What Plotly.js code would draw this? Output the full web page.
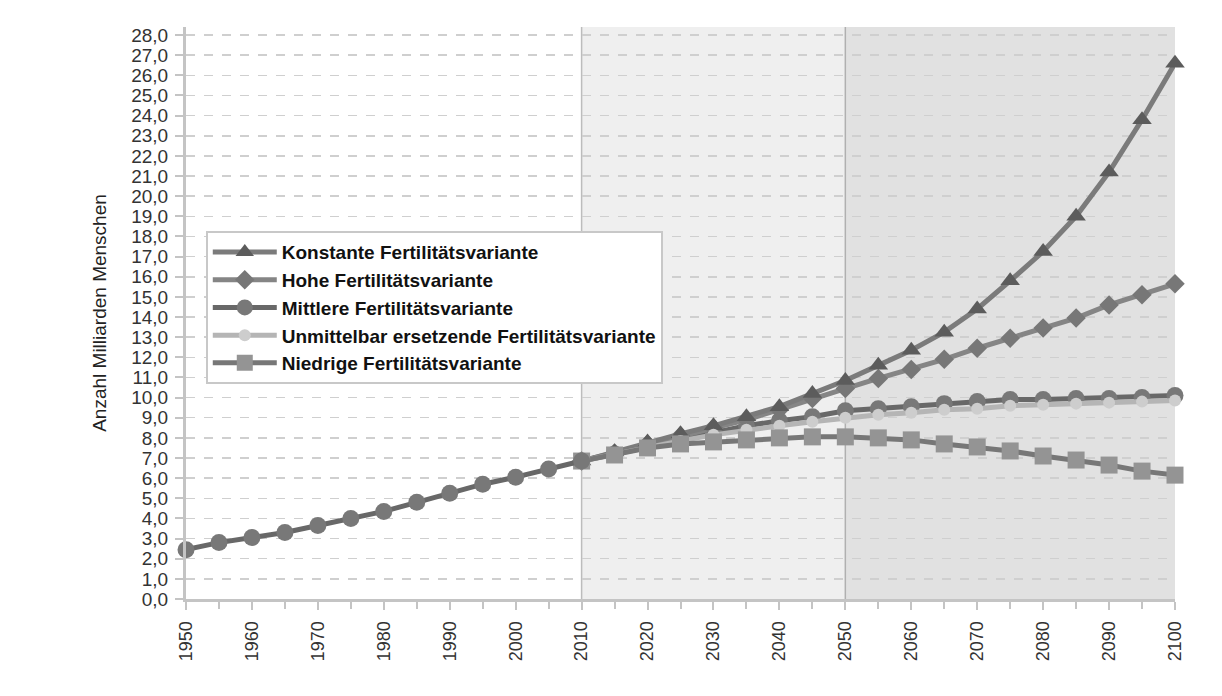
<!DOCTYPE html>
<html>
<head>
<meta charset="utf-8">
<script src="https://cdn.plot.ly/plotly-3.0.1.min.js"></script>
<style>html,body{margin:0;padding:0;background:#fff;}#chart{width:1222px;height:696px;}</style>
</head>
<body>
<div id="chart"></div>
<script>
const histYears = [1950,1955,1960,1965,1970,1975,1980,1985,1990,1995,2000,2005,2010];
const history = [2.45,2.8,3.05,3.3,3.65,4.0,4.35,4.8,5.25,5.7,6.05,6.45,6.85];
const projYears = [2010,2015,2020,2025,2030,2035,2040,2045,2050,2055,2060,2065,2070,2075,2080,2085,2090,2095,2100];
const konstante = [6.85,7.3,7.8,8.2,8.6,9.05,9.55,10.2,10.85,11.6,12.35,13.25,14.4,15.8,17.25,19.0,21.2,23.8,26.6];
const hohe = [6.85,7.25,7.7,8.1,8.5,8.9,9.4,9.95,10.45,10.95,11.4,11.9,12.45,12.95,13.45,13.95,14.6,15.1,15.65];
const mittlere = [6.85,7.2,7.6,7.95,8.3,8.6,8.85,9.05,9.35,9.45,9.55,9.7,9.8,9.9,9.9,9.95,9.95,10.0,10.1];
const ersetzende = [6.85,7.2,7.55,7.85,8.15,8.4,8.6,8.8,9.0,9.15,9.25,9.4,9.45,9.6,9.65,9.7,9.75,9.8,9.85];
const niedrige = [6.85,7.15,7.5,7.7,7.8,7.9,8.0,8.05,8.05,8.0,7.9,7.7,7.55,7.35,7.1,6.9,6.65,6.35,6.15];
const seriesNames = ["Konstante Fertilitätsvariante","Hohe Fertilitätsvariante","Mittlere Fertilitätsvariante","Unmittelbar ersetzende Fertilitätsvariante","Niedrige Fertilitätsvariante"];
const yTitle = "Anzahl Milliarden Menschen";

const styles = [
  {line:'#7b7b7b', marker:'#5c5c5c', symbol:'triangle-up', size:17},
  {line:'#858585', marker:'#777777', symbol:'diamond', size:15},
  {line:'#686868', marker:'#787878', symbol:'circle', size:17},
  {line:'#b5b5b5', marker:'#cdcdcd', symbol:'circle', size:12},
  {line:'#777777', marker:'#949494', symbol:'square', size:17}
];
const dataArrs = [konstante, hohe, mittlere, ersetzende, niedrige];
const drawOrder = [2,1,0,3,4];
const traces = [];
drawOrder.forEach(i=>{
  traces.push({
    x: projYears, y: dataArrs[i], name: seriesNames[i], type:'scatter', mode:'lines+markers',
    line:{color:styles[i].line, width:5},
    marker:{color:styles[i].marker, symbol:styles[i].symbol, size:styles[i].size},
    cliponaxis:false, legendrank: i+1
  });
});
// shared historical part (drawn on top, in the style of the medium variant)
traces.push({
  x: histYears, y: history, name: seriesNames[2], type:'scatter', mode:'lines+markers',
  line:{color:styles[2].line, width:5},
  marker:{color:styles[2].marker, symbol:'circle', size:17},
  cliponaxis:false, showlegend:false
});

const layout = {
  width:1222, height:696,
  margin:{l:186, r:47, t:27, b:97},
  paper_bgcolor:'#ffffff', plot_bgcolor:'#ffffff',
  separators:',.',
  font:{family:'Liberation Sans, Arial, sans-serif', color:'#333333', size:18},
  xaxis:{
    range:[1950,2100], tickmode:'linear', tick0:1950, dtick:10, tickangle:-90,
    ticks:'outside', ticklen:8, tickwidth:2, tickcolor:'#c4c4c4',
    minor:{dtick:5, ticks:'outside', ticklen:7, tickwidth:2, tickcolor:'#c4c4c4', showgrid:false},
    showgrid:false, showline:true, linecolor:'#c4c4c4', linewidth:3, zeroline:false,
    tickfont:{size:18, color:'#333333'}, ticklabelstandoff:4
  },
  yaxis:{
    range:[0,28.4], tickmode:'linear', tick0:0, dtick:1, tickformat:'.1f',
    ticks:'outside', ticklen:8, tickwidth:2, tickcolor:'#c4c4c4',
    showgrid:true, gridcolor:'#cfcfcf', griddash:'dash', gridwidth:1.5,
    showline:true, linecolor:'#c4c4c4', linewidth:3, zeroline:false,
    tickfont:{size:19, color:'#333333'}, ticklabelstandoff:3,
    title:{text:yTitle, font:{size:19, color:'#222222'}, standoff:20}
  },
  shapes:[
    {type:'rect', xref:'x', yref:'paper', x0:2010, x1:2050, y0:0, y1:1, fillcolor:'#efefef', line:{width:0}, layer:'below'},
    {type:'rect', xref:'x', yref:'paper', x0:2050, x1:2100, y0:0, y1:1, fillcolor:'#e1e1e1', line:{width:0}, layer:'below'},
    {type:'line', xref:'x', yref:'paper', x0:2010, x1:2010, y0:0, y1:1, line:{color:'#bcbcbc', width:1.5}, layer:'below'},
    {type:'line', xref:'x', yref:'paper', x0:2050, x1:2050, y0:0, y1:1, line:{color:'#b0b0b0', width:1.5}, layer:'below'}
  ],
  legend:{
    x:0.02, y:0.643, xanchor:'left', yanchor:'top',
    bgcolor:'#ffffff', bordercolor:'#c8c8c8', borderwidth:2,
    font:{size:19, color:'#111111', weight:'bold'},
    itemwidth:64, traceorder:'normal', tracegroupgap:0
  },
  showlegend:true
};

Plotly.newPlot('chart', traces, layout, {displayModeBar:false, staticPlot:true});
</script>
</body>
</html>
